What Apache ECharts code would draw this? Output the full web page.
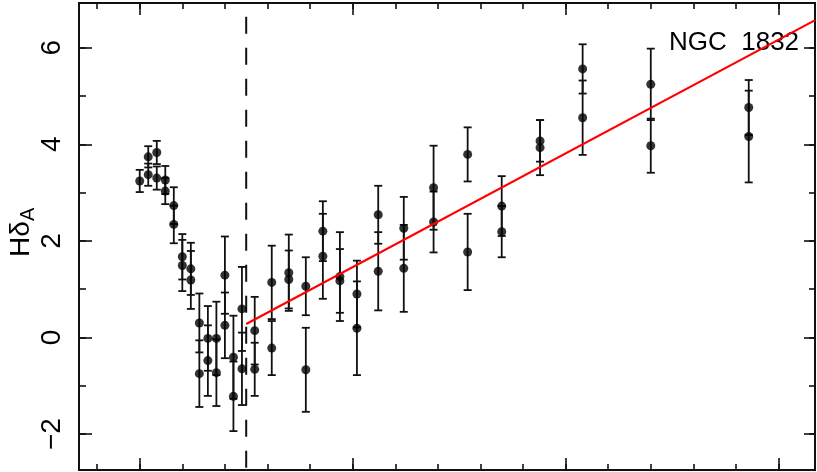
<!DOCTYPE html>
<html>
<head>
<meta charset="utf-8">
<script src="https://cdn.jsdelivr.net/npm/echarts@6/dist/echarts.min.js"></script>
<style>
  html, body { margin: 0; padding: 0; background: #fff; }
  #chart-container { width: 817px; height: 472px; }
</style>
</head>
<body>
<div id="chart-container"></div>
<script>
// x positions of the pairs (axis is unlabelled, minor tick = 1 unit)
var age = [5.0, 5.2, 5.4, 5.6, 5.8, 6.0, 6.2, 6.4, 6.6, 6.8, 7.0, 7.2, 7.4, 7.7, 8.1,
  8.5, 8.9, 9.3, 9.7, 10.1, 10.6, 11.2, 11.9, 12.7, 13.5, 14.4, 15.4, 17.0, 19.3];
var hdA1 = [3.24, 3.74, 3.83, 3.26, 2.73, 1.67, 1.42, 0.30, -0.02, -0.02, 1.29, -0.41, 0.59, 0.14, 1.14,
  1.34, 1.06, 2.20, 1.26, 0.90, 2.54, 2.26, 3.10, 3.79, 2.72, 4.07, 5.56, 5.24, 4.76];
var err1 = [0.23, 0.22, 0.24, 0.29, 0.38, 0.47, 0.54, 0.61, 0.67, 0.76, 0.80, 0.86, 0.87, 0.70, 0.76,
  0.79, 0.60, 0.62, 0.92, 0.69, 0.60, 0.65, 0.87, 0.56, 0.62, 0.43, 0.51, 0.74, 0.57];
var hdA2 = [null, 3.37, 3.30, 3.03, 2.34, 1.49, 1.19, -0.75, -0.48, -0.73, 0.25, -1.22, -0.65, -0.66, -0.22,
  1.20, -0.67, 1.68, 1.17, 0.19, 1.37, 1.43, 2.39, 1.77, 2.19, 3.93, 4.55, 3.97, 4.16];
var err2 = [null, 0.23, 0.24, 0.27, 0.39, 0.53, 0.60, 0.69, 0.73, 0.69, 0.68, 0.72, 0.75, 0.55, 0.56,
  0.60, 0.87, 0.88, 0.66, 0.97, 0.81, 0.90, 0.63, 0.79, 0.53, 0.57, 0.77, 0.56, 0.95];

// linear fit and the dashed divider
var fitX = [7.5, 20.86];
var fitY = [0.28, 6.57];
var cutX = 7.5;

var xMajor = [5, 10, 15, 20];
var xMinor = [4, 5, 6, 7, 8, 9, 10, 11, 12, 13, 14, 15, 16, 17, 18, 19, 20];
var yMajor = [-2, 0, 2, 4, 6];
var yMinor = [-2, -1, 0, 1, 2, 3, 4, 5, 6];

var xMin = 3.574, xMax = 20.856;
var yMin = -2.745, yMax = 6.925;

var points = [];
var bars = [];
for (var i = 0; i < age.length; i++) {
  points.push([age[i], hdA1[i]]);
  bars.push([age[i], hdA1[i] - err1[i], hdA1[i] + err1[i]]);
  if (hdA2[i] !== null) {
    points.push([age[i], hdA2[i]]);
    bars.push([age[i], hdA2[i] - err2[i], hdA2[i] + err2[i]]);
  }
}

function renderErr(params, api) {
  var x = api.value(0);
  var top = api.coord([x, api.value(2)]);
  var bot = api.coord([x, api.value(1)]);
  var w = 4;
  var st = { stroke: '#111', lineWidth: 1.8 };
  return {
    type: 'group',
    children: [
      { type: 'line', shape: { x1: top[0], y1: top[1], x2: bot[0], y2: bot[1] }, style: st },
      { type: 'line', shape: { x1: top[0] - w, y1: top[1], x2: top[0] + w, y2: top[1] }, style: st },
      { type: 'line', shape: { x1: bot[0] - w, y1: bot[1], x2: bot[0] + w, y2: bot[1] }, style: st }
    ]
  };
}

function xAx(pos, ticks, len) {
  return {
    type: 'value', position: pos, min: xMin, max: xMax,
    axisLine: { show: true, onZero: false, lineStyle: { color: '#111', width: 2 } },
    axisTick: { show: true, inside: true, length: len, customValues: ticks, lineStyle: { color: '#111', width: 1.6 } },
    axisLabel: { show: false },
    splitLine: { show: false }
  };
}

function yAx(pos, ticks, len) {
  return {
    type: 'value', position: pos, min: yMin, max: yMax, offset: 0,
    axisLine: { show: true, onZero: false, lineStyle: { color: '#111', width: 2 } },
    axisTick: { show: true, inside: true, length: len, customValues: ticks, lineStyle: { color: '#111', width: 1.6 } },
    axisLabel: { show: false },
    splitLine: { show: false }
  };
}

var yLeft = yAx('left', yMajor, 13);
yLeft.axisLabel = {
  show: true,
  customValues: yMajor,
  rotate: 90,
  margin: 13,
  fontSize: 28,
  fontFamily: 'Liberation Sans',
  color: '#000',
  formatter: function (v) {
    return v < 0 ? '\u2212' + Math.abs(v) : String(v);
  }
};

var dom = document.getElementById('chart-container');
var myChart = echarts.init(dom, null, { renderer: 'canvas' });

var option = {
  animation: false,
  backgroundColor: '#fff',
  grid: { left: 79, right: 2, top: 3, bottom: 2, containLabel: false },
  xAxis: [xAx('bottom', xMajor, 12), xAx('bottom', xMinor, 6), xAx('top', xMajor, 12), xAx('top', xMinor, 6)],
  yAxis: [yLeft, yAx('left', yMinor, 7), yAx('right', yMajor, 11), yAx('right', yMinor, 6)],
  graphic: [
    {
      type: 'group', x: 21, y: 257, rotation: Math.PI / 2,
      children: [
        { type: 'text', x: 0, y: 0, style: { text: 'H\u03b4', fontSize: 28, fontFamily: 'Liberation Sans', fill: '#000', verticalAlign: 'middle' } },
        { type: 'text', x: 36, y: 7, style: { text: 'A', fontSize: 20, fontFamily: 'Liberation Sans', fill: '#000', verticalAlign: 'middle' } }
      ]
    },
    {
      type: 'text', left: 669, top: 30,
      style: { text: 'NGC  1832', fontSize: 26, fontFamily: 'Liberation Sans', fill: '#000' }
    }
  ],
  series: [
    {
      type: 'line',
      data: [[cutX, yMax], [cutX, yMin]],
      symbol: 'none',
      silent: true,
      lineStyle: { color: '#111', width: 2, type: [17, 14], dashOffset: 17.3 }
    },
    {
      type: 'custom',
      renderItem: renderErr,
      data: bars,
      encode: { x: 0, y: [1, 2] },
      z: 3
    },
    {
      type: 'scatter',
      data: points,
      symbol: 'circle',
      symbolSize: 9,
      itemStyle: { color: '#000' },
      z: 4
    },
    {
      type: 'line',
      data: [[fitX[0], fitY[0]], [fitX[1], fitY[1]]],
      symbol: 'none',
      lineStyle: { color: '#ff0000', width: 2.2 },
      z: 5
    }
  ]
};

myChart.setOption(option);
window.addEventListener('resize', myChart.resize);
</script>
</body>
</html>
